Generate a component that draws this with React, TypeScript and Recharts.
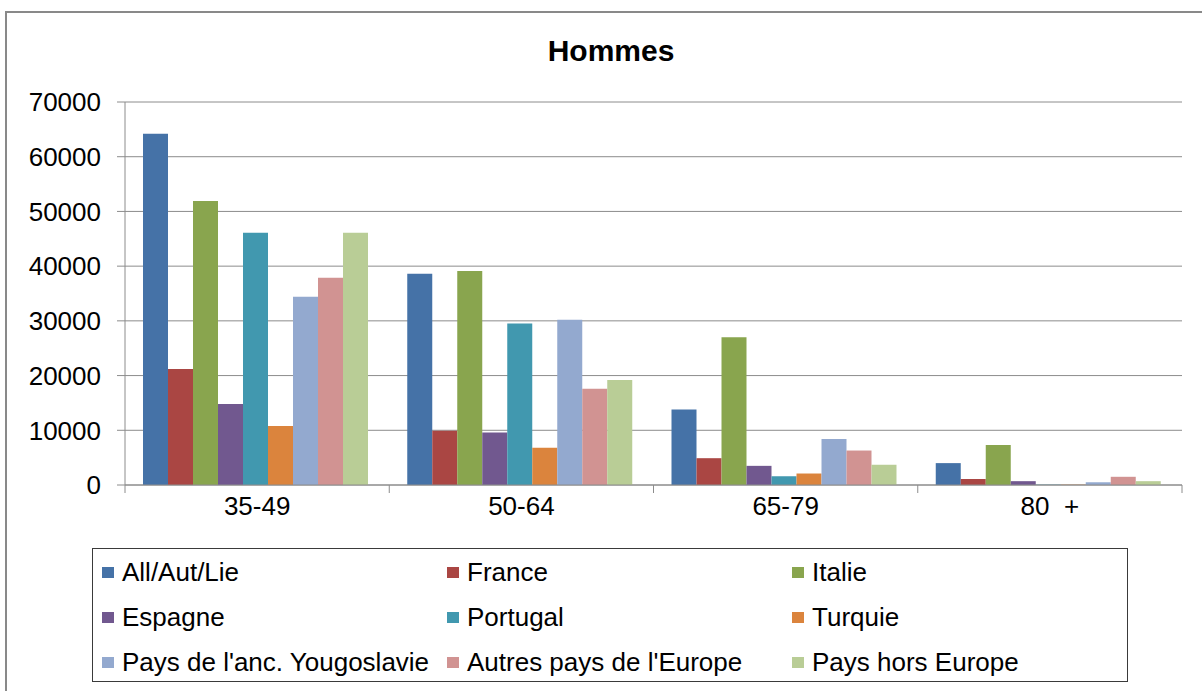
import { BarChart, Bar, XAxis, YAxis, CartesianGrid } from "recharts";

const ageGroups = ["35-49", "50-64", "65-79", "80\u00a0\u00a0+"];

const seriesNames = [
  "All/Aut/Lie",
  "France",
  "Italie",
  "Espagne",
  "Portugal",
  "Turquie",
  "Pays de l'anc. Yougoslavie",
  "Autres pays de l'Europe",
  "Pays hors Europe",
];

const seriesColors = [
  "#4572A7", "#AA4643", "#89A54E",
  "#71588F", "#4198AF", "#DB843D",
  "#93A9CF", "#D19392", "#B9CD96",
];

const allAutLie = [64200, 38600, 13800, 4000];
const france = [21200, 9900, 4900, 1100];
const italie = [51900, 39100, 27000, 7300];
const espagne = [14800, 9600, 3500, 700];
const portugal = [46100, 29500, 1600, 60];
const turquie = [10800, 6800, 2100, 60];
const yougoslavie = [34400, 30200, 8400, 500];
const autresEurope = [37900, 17600, 6300, 1500];
const horsEurope = [46100, 19200, 3700, 700];

const seriesValues = [
  allAutLie, france, italie, espagne, portugal,
  turquie, yougoslavie, autresEurope, horsEurope,
];

const yTicks = [0, 10000, 20000, 30000, 40000, 50000, 60000, 70000];

const chartData = ageGroups.map((age, i) => {
  const row: Record<string, string | number> = { age };
  seriesValues.forEach((vals, j) => {
    row["s" + j] = vals[i];
  });
  return row;
});

const FONT = "'Liberation Sans', Arial, sans-serif";
const AXIS = "#8c8c8c";

const CHART_W = 1202;
const MARGIN = { top: 102, right: 20, left: 10, bottom: 15 };
const Y_W = 115;
const BAND = (CHART_W - MARGIN.left - MARGIN.right - Y_W) / ageGroups.length;
const LABEL_GAP = 12;

// category label plus Excel-style tick marks on the group boundaries
function GroupTick(props: any) {
  const { x, y, payload, index } = props;
  const axisY = y - LABEL_GAP;
  const left = x - BAND / 2;
  const right = x + BAND / 2;
  return (
    <g>
      <line x1={left} x2={left} y1={axisY} y2={axisY + 8} stroke={AXIS} />
      {index === ageGroups.length - 1 && (
        <line x1={right} x2={right} y1={axisY} y2={axisY + 8} stroke={AXIS} />
      )}
      <text x={x} y={y} dy="0.71em" textAnchor="middle" fill="#000" fontSize={26} fontFamily={FONT}>
        {payload.value}
      </text>
    </g>
  );
}

export default function App() {
  return (
    <div style={{ position: "relative", width: 1202, height: 691, overflow: "hidden", background: "#fff", fontFamily: FONT }}>
      <style>{`body{margin:0}`}</style>
      {/* outer chart frame (only top & left visible) */}
      <div style={{ position: "absolute", left: 5, top: 11, width: 1300, height: 800, border: "2px solid #898989" }} />

      <div style={{ position: "absolute", left: 0, top: 36, width: 1222, textAlign: "center", fontSize: 30, lineHeight: "30px", fontWeight: "bold", color: "#000" }}>
        Hommes
      </div>

      <div style={{ position: "absolute", left: 0, top: 0 }}>
        <BarChart
          width={CHART_W}
          height={540}
          data={chartData}
          margin={MARGIN}
          barCategoryGap={18}
          barGap={0}
        >
          <CartesianGrid vertical={false} stroke={AXIS} />
          <XAxis
            dataKey="age"
            interval={0}
            tickLine={false}
            tickSize={0}
            tickMargin={LABEL_GAP}
            axisLine={{ stroke: AXIS }}
            tick={<GroupTick />}
            height={40}
          />
          <YAxis
            domain={[0, 70000]}
            ticks={yTicks}
            interval={0}
            width={Y_W}
            tickSize={8}
            tickMargin={16}
            axisLine={{ stroke: AXIS }}
            tickLine={{ stroke: AXIS }}
            tick={{ fill: "#000", fontSize: 26, fontFamily: FONT }}
          />
          {seriesNames.map((name, j) => (
            <Bar key={name} dataKey={"s" + j} name={name} fill={seriesColors[j]} isAnimationActive={false} />
          ))}
        </BarChart>
      </div>

      {/* legend */}
      <div
        style={{
          position: "absolute", left: 92, top: 548, width: 1036, height: 134,
          border: "1px solid #3a3a3a", display: "grid",
          gridTemplateColumns: "345px 345px 330px", gridAutoRows: "45px",
          paddingLeft: 9, paddingTop: 1, boxSizing: "border-box",
        }}
      >
        {seriesNames.map((name, j) => (
          <div key={name} style={{ display: "flex", alignItems: "center", fontSize: 26, color: "#000", whiteSpace: "nowrap" }}>
            <span style={{ display: "inline-block", width: 12, height: 11, background: seriesColors[j], marginRight: 8 }} />
            {name}
          </div>
        ))}
      </div>
    </div>
  );
}
